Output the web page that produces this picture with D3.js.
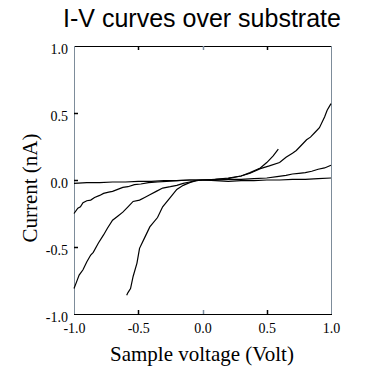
<!DOCTYPE html>
<html>
<head>
<meta charset="utf-8">
<script src="https://cdn.jsdelivr.net/npm/d3@7"></script>
<style>
  body { margin: 0; background: #fff; }
  svg { display: block; }
</style>
</head>
<body>
<svg width="371" height="378"></svg>
<script>
// I-V sweeps, [voltage (V), current (nA)]
var flatCurve = [
  [-1.0, -0.025], [-0.9, -0.02], [-0.8, -0.02], [-0.7, -0.015], [-0.6, -0.015],
  [-0.5, -0.01], [-0.4, -0.01], [-0.3, -0.005], [-0.2, -0.005], [-0.1, 0.0],
  [0.0, 0.0], [0.1, -0.005], [0.2, -0.01], [0.3, -0.005], [0.4, -0.005],
  [0.5, 0.0], [0.6, 0.0], [0.7, 0.005], [0.8, 0.005], [0.9, 0.01], [1.0, 0.015]
];
var lowCurve = [
  [-1.0, -0.25], [-0.97, -0.21], [-0.95, -0.2], [-0.93, -0.17], [-0.9, -0.155],
  [-0.87, -0.15], [-0.84, -0.13], [-0.8, -0.115], [-0.77, -0.1], [-0.73, -0.09],
  [-0.7, -0.085], [-0.66, -0.07], [-0.62, -0.055], [-0.58, -0.05], [-0.53, -0.035],
  [-0.48, -0.03], [-0.42, -0.02], [-0.35, -0.015], [-0.28, -0.01], [-0.2, -0.005],
  [-0.1, 0.0], [0.0, 0.0], [0.1, 0.0], [0.2, 0.005], [0.3, 0.005], [0.4, 0.01],
  [0.5, 0.015], [0.58, 0.025], [0.65, 0.035], [0.7, 0.045], [0.75, 0.05],
  [0.8, 0.055], [0.85, 0.065], [0.9, 0.08], [0.95, 0.09], [1.0, 0.11]
];
var fullCurve = [
  [-1.0, -0.81], [-0.98, -0.76], [-0.96, -0.71], [-0.93, -0.67], [-0.9, -0.61],
  [-0.87, -0.56], [-0.85, -0.54], [-0.81, -0.47], [-0.77, -0.41], [-0.74, -0.36],
  [-0.7, -0.3], [-0.66, -0.27], [-0.62, -0.24], [-0.58, -0.2], [-0.54, -0.16],
  [-0.49, -0.15], [-0.45, -0.13], [-0.41, -0.11], [-0.36, -0.085], [-0.31, -0.06],
  [-0.25, -0.05], [-0.2, -0.04], [-0.15, -0.025], [-0.1, -0.015], [-0.05, -0.005],
  [0.0, 0.0], [0.1, 0.005], [0.2, 0.01], [0.3, 0.03], [0.37, 0.05], [0.45, 0.085],
  [0.52, 0.105], [0.6, 0.13], [0.65, 0.17], [0.7, 0.2], [0.73, 0.22], [0.76, 0.25],
  [0.81, 0.3], [0.84, 0.32], [0.88, 0.36], [0.91, 0.39], [0.95, 0.47],
  [0.97, 0.52], [1.0, 0.57]
];
var steepCurve = [
  [-0.59, -0.86], [-0.58, -0.84], [-0.56, -0.81], [-0.54, -0.72], [-0.51, -0.62],
  [-0.49, -0.51], [-0.45, -0.43], [-0.41, -0.35], [-0.35, -0.28], [-0.31, -0.2],
  [-0.25, -0.13], [-0.2, -0.07], [-0.15, -0.04], [-0.1, -0.02], [-0.05, -0.005],
  [0.0, 0.0], [0.1, 0.005], [0.2, 0.015], [0.3, 0.03], [0.37, 0.055],
  [0.45, 0.09], [0.5, 0.13], [0.55, 0.18], [0.59, 0.23]
];
var curves = [flatCurve, lowCurve, fullCurve, steepCurve];

var xTicks = [-1.0, -0.5, 0.0, 0.5, 1.0];
var yTicks = [-1.0, -0.5, 0.0, 0.5, 1.0];

var svg = d3.select("svg");
var plotLeft = 74, plotRight = 331, plotTop = 46, plotBottom = 314;

var x = d3.scaleLinear().domain([-1, 1]).range([plotLeft, plotRight]);
var y = d3.scaleLinear().domain([-1, 1]).range([plotBottom, plotTop]);
var fmt = d => d.toFixed(1); // plain hyphen minus like the original

// title
svg.append("text")
  .attr("x", 202).attr("y", 27)
  .attr("text-anchor", "middle")
  .style("font-family", "'Liberation Sans', Arial, sans-serif")
  .style("font-size", "25px")
  .text("I-V curves over substrate");

// frame: top/bottom black, sides greyish
svg.append("line").attr("x1", plotLeft).attr("x2", plotRight + 1).attr("y1", plotTop + 0.5).attr("y2", plotTop + 0.5)
  .attr("stroke", "#000");
svg.append("line").attr("x1", plotLeft).attr("x2", plotRight + 1).attr("y1", plotBottom + 0.5).attr("y2", plotBottom + 0.5)
  .attr("stroke", "#000");
svg.append("line").attr("x1", plotLeft + 0.5).attr("x2", plotLeft + 0.5).attr("y1", plotTop).attr("y2", plotBottom)
  .attr("stroke", "#7d8c9a");
svg.append("line").attr("x1", plotRight + 0.5).attr("x2", plotRight + 0.5).attr("y1", plotTop).attr("y2", plotBottom)
  .attr("stroke", "#7d8c9a");

// tick labels through the d3 axes, ticks drawn inward by hand
var xAxis = svg.append("g").attr("transform", "translate(0," + (plotBottom + 0.5) + ")")
  .call(d3.axisBottom(x).tickValues(xTicks).tickFormat(fmt).tickSize(0).tickPadding(9));
xAxis.select(".domain").remove();

var yAxis = svg.append("g").attr("transform", "translate(" + (plotLeft - 1) + ",0)")
  .call(d3.axisLeft(y).tickValues(yTicks).tickFormat(fmt).tickSize(0).tickPadding(5));
yAxis.select(".domain").remove();
yAxis.selectAll(".tick text").attr("dy", "0.5em");

svg.selectAll(".tick text")
  .style("font-family", "'Liberation Serif', 'Times New Roman', serif")
  .style("font-size", "14px")
  .attr("fill", "#000");

var innerX = xTicks.filter(d => d > -1 && d < 1);
var innerY = yTicks.filter(d => d > -1 && d < 1);

svg.append("g").selectAll("line").data(innerX).join("line")
  .attr("x1", d => Math.round(x(d)) + 0.5).attr("x2", d => Math.round(x(d)) + 0.5)
  .attr("y1", plotBottom).attr("y2", plotBottom - 4)
  .attr("stroke", d => d === 0 ? "#7a8ca0" : "#000").attr("stroke-width", 1.5);
svg.append("g").selectAll("line").data(innerX).join("line")
  .attr("x1", d => Math.round(x(d)) + 0.5).attr("x2", d => Math.round(x(d)) + 0.5)
  .attr("y1", plotTop).attr("y2", plotTop + 4)
  .attr("stroke", d => d === 0 ? "#7a8ca0" : "#000").attr("stroke-width", 1.5);
svg.append("g").selectAll("line").data(innerY).join("line")
  .attr("x1", plotLeft).attr("x2", plotLeft + 4)
  .attr("y1", d => Math.round(y(d)) + 0.5).attr("y2", d => Math.round(y(d)) + 0.5)
  .attr("stroke", "#000").attr("stroke-width", 1.5);

// axis titles
svg.append("text")
  .attr("x", 202).attr("y", 361)
  .attr("text-anchor", "middle")
  .style("font-family", "'Liberation Serif', 'Times New Roman', serif")
  .style("font-size", "21px")
  .text("Sample voltage (Volt)");

svg.append("text")
  .attr("transform", "translate(37,188) rotate(-90)")
  .attr("text-anchor", "middle")
  .style("font-family", "'Liberation Serif', 'Times New Roman', serif")
  .style("font-size", "21px")
  .text("Current (nA)");

// curves
var line = d3.line().x(d => x(d[0])).y(d => y(d[1]));
svg.append("g").selectAll("path").data(curves).join("path")
  .attr("d", line)
  .attr("fill", "none")
  .attr("stroke", "#000")
  .attr("stroke-width", 1.2);
</script>
</body>
</html>
